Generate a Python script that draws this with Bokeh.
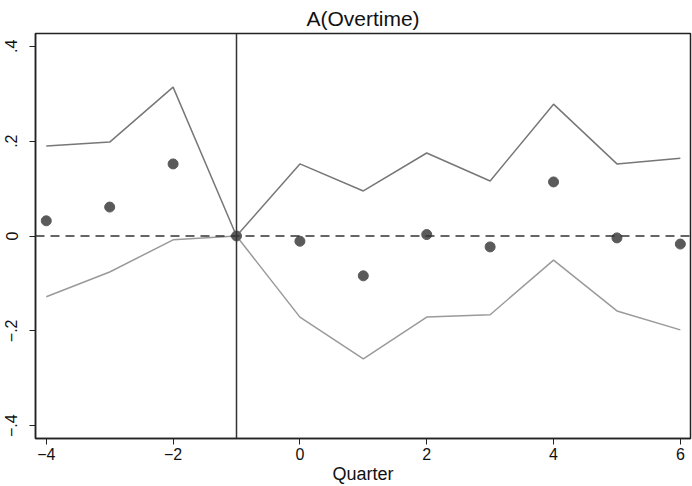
from bokeh.plotting import figure
from bokeh.models import FixedTicker, Span
from bokeh.embed import file_html
from bokeh.resources import INLINE

quarters = [-4, -3, -2, -1, 0, 1, 2, 3, 4, 5, 6]
estimate = [0.032, 0.061, 0.152, 0.0, -0.011, -0.084, 0.003, -0.023, 0.114, -0.004, -0.017]
upper_ci = [0.190, 0.198, 0.314, 0.0, 0.152, 0.095, 0.175, 0.116, 0.278, 0.152, 0.164]
lower_ci = [-0.128, -0.076, -0.008, 0.0, -0.171, -0.259, -0.171, -0.166, -0.051, -0.158, -0.198]

x_ticks = [-4, -2, 0, 2, 4, 6]
x_labels = {-4: "\u22124", -2: "\u22122", 0: "0", 2: "2", 4: "4", 6: "6"}
y_ticks = [-0.4, -0.2, 0, 0.2, 0.4]
y_labels = {-0.4: "\u2212.4", -0.2: "\u2212.2", 0: "0", 0.2: ".2", 0.4: ".4"}

FONT = "Liberation Sans"

p = figure(width=692, height=486, output_backend="svg", toolbar_location=None,
           x_range=(-4.17, 6.16), y_range=(-0.427, 0.427),
           title="A(Overtime)", min_border_left=35, min_border_right=2,
           min_border_bottom=40, min_border_top=33)

p.title.align = "center"
p.title.text_font = FONT
p.title.text_font_size = "21px"
p.title.text_font_style = "normal"
p.title.text_color = "#111111"
p.title.offset = 0
p.title.standoff = 8

p.xgrid.visible = False
p.ygrid.visible = False
p.outline_line_color = "#222222"
p.outline_line_width = 1.5
p.background_fill_color = "white"
p.border_fill_color = "white"

for ax in (p.xaxis[0], p.yaxis[0]):
    ax.axis_line_color = "#222222"
    ax.axis_line_width = 1.5
    ax.major_tick_line_color = "#222222"
    ax.major_tick_out = 6
    ax.major_tick_in = 0
    ax.minor_tick_line_color = None
    ax.major_label_text_font = FONT
    ax.major_label_text_font_size = "16px"
    ax.major_label_text_color = "#111111"

p.xaxis.ticker = FixedTicker(ticks=x_ticks)
p.xaxis.major_label_overrides = x_labels
p.xaxis.axis_label = "Quarter"
p.xaxis.axis_label_text_font = FONT
p.xaxis.axis_label_text_font_size = "18px"
p.xaxis.axis_label_text_font_style = "normal"
p.xaxis.axis_label_text_color = "#111111"
p.xaxis.axis_label_standoff = 1
p.xaxis.major_label_standoff = 3

p.yaxis.ticker = FixedTicker(ticks=y_ticks)
p.yaxis.major_label_overrides = y_labels
p.yaxis.major_label_orientation = "vertical"
p.yaxis.major_label_standoff = 12

p.add_layout(Span(location=0, dimension="width", line_color="#333333",
                  line_width=1.5, line_dash="9 6"))
p.add_layout(Span(location=-1, dimension="height", line_color="#333333",
                  line_width=1.5))

p.line(quarters, upper_ci, line_color="#777777", line_width=1.5)
p.line(quarters, lower_ci, line_color="#9a9a9a", line_width=1.5)
p.scatter(quarters, estimate, size=10, fill_color="#5a5a5a", line_color="#5a5a5a")

open("out.html", "w").write(file_html(p, INLINE))
